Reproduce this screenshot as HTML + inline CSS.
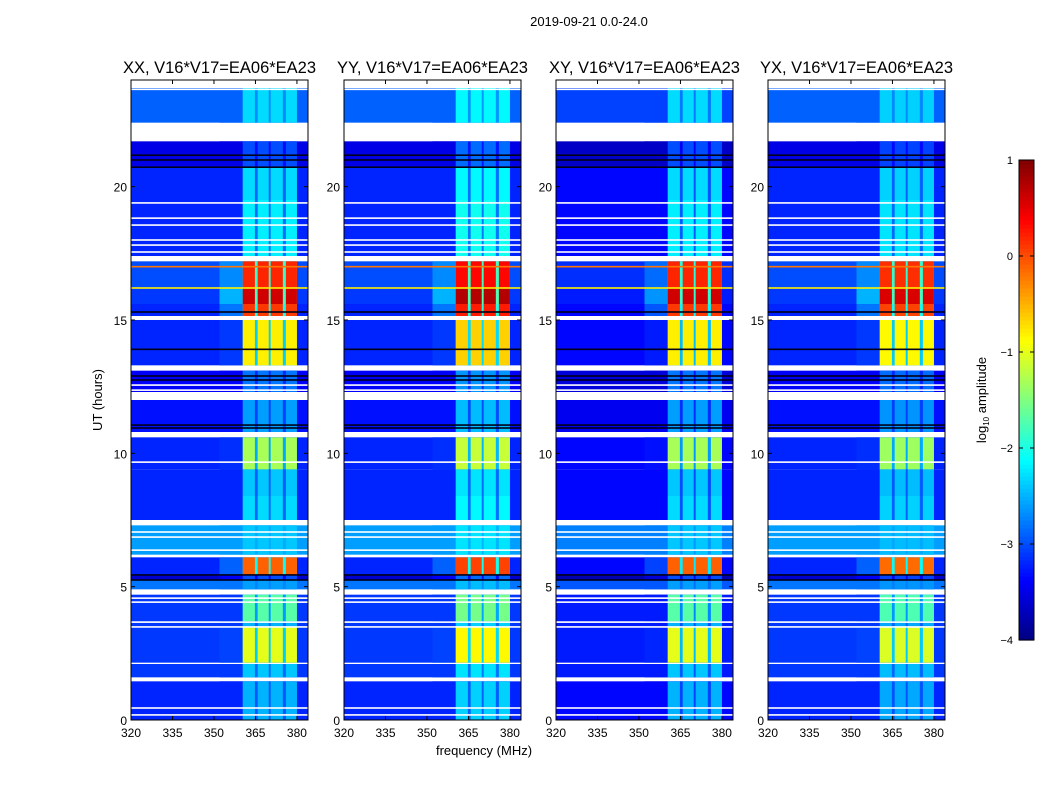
<!DOCTYPE html>
<html><head><meta charset="utf-8">
<style>
body{margin:0;background:#fff;}
svg text{font-family:"Liberation Sans",sans-serif;fill:#000;}
</style></head>
<body>
<svg id="chart" width="1050" height="800" xmlns="http://www.w3.org/2000/svg">
<rect width="1050" height="800" fill="#fff"/>
<text x="589" y="26" font-size="13" text-anchor="middle">2019-09-21 0.0-24.0</text>
<text transform="translate(102,400) rotate(-90)" font-size="13" text-anchor="middle">UT (hours)</text>
<text x="484" y="755" font-size="13" text-anchor="middle">frequency (MHz)</text>
<g id="panels"></g>
<g id="cbar"></g>
</svg>
<script>
// ---- data ----
const panelTitles = ["XX, V16*V17=EA06*EA23","YY, V16*V17=EA06*EA23","XY, V16*V17=EA06*EA23","YX, V16*V17=EA06*EA23"];
const bandOffset = [0, 0.15, 0, -0.05];
const bgOffset = [0, 0, -0.15, 0];
// [t0, t1, background level, band level, halo level]
const segments = [
 [0,1.45,-3.2,-2.5,-3.2],
 [1.6,2.1,-3.1,-2.4,-3.1],
 [2.15,3.5,-3.1,-1.0,-3.05],
 [3.5,3.7,-3.1,-2.5,-3.1],
 [3.7,4.7,-3.1,-1.7,-3.1],
 [4.9,5.25,-2.8,-2.6,-2.8],
 [5.25,5.45,-3.6,-3.0,-3.4],
 [5.45,6.1,-3.2,-0.1,-2.9],
 [6.2,7.3,-2.6,-2.4,-2.6],
 [7.5,8.4,-3.2,-2.3,-3.2],
 [8.4,9.4,-3.2,-2.4,-3.2],
 [9.4,10.6,-3.2,-1.3,-3.15],
 [10.8,12.0,-3.3,-2.6,-3.3],
 [12.3,13.1,-3.4,-2.8,-3.4],
 [13.3,15.0,-3.2,-0.8,-3.1],
 [15.15,15.6,-3.2,0.1,-2.8],
 [15.6,16.2,-3.1,0.6,-2.5],
 [16.2,17.2,-3.0,0.2,-2.7],
 [17.4,19.5,-3.2,-2.2,-3.2],
 [19.5,20.7,-3.2,-2.3,-3.2],
 [20.7,21.7,-3.5,-3.0,-3.5],
 [22.4,23.7,-2.9,-2.3,-2.9]
];
const whiteLines = [0.19,0.45,3.49,3.67,4.42,4.57,6.37,6.86,7.05,9.67,12.37,12.56,17.55,17.81,18.0,18.56,18.82,19.39,23.65];
// [t, level] full-width colored lines
const colorLines = [[10.95,-4.6],[11.06,-4.6],[5.25,-4.6],[5.44,-4.6],[12.75,-4.6],[12.9,-4.6],[13.9,-4.6],[20.73,-4.6],[21.0,-4.6],[21.18,-4.6],[16.2,-0.8],[17.0,-0.2],[15.3,-4.6]];
// sub-band frequency edges (MHz)
const subBands = [[360.4,364.8],[365.8,369.8],[370.5,374.9],[376,380]];
const haloRange = [352,360.4];
const xTicks = [320,335,350,365,380];
const yTicks = [0,5,10,15,20];
const cbTicks = [1,0,-1,-2,-3,-4];

// ---- layout ----
const panelX = [131,344,556,768];
const PW = 177, PT = 80, PB = 720;
const fMin = 320, fMax = 384, tMin = 0, tMax = 24;
const NS = "http://www.w3.org/2000/svg";

function jet(v){ // v in [-4,1]
  let x = (v+4)/5; if(x<0){ return v< -4.3 ? "#000018" : "#00007f"; } if(x>1)x=1;
  const c = t=>Math.round(255*Math.max(0,Math.min(1,t)));
  const r = c(1.5-Math.abs(4*x-3)), g = c(1.5-Math.abs(4*x-2)), b = c(1.5-Math.abs(4*x-1));
  return `rgb(${r},${g},${b})`;
}
function el(tag, attrs, parent){const e=document.createElementNS(NS,tag);for(const k in attrs)e.setAttribute(k,attrs[k]);parent.appendChild(e);return e;}

const panelsG = document.getElementById('panels');
panelX.forEach((x0,pi)=>{
  const xs = f => x0 + (f-fMin)/(fMax-fMin)*PW;
  const ys = t => PB - (t-tMin)/(tMax-tMin)*(PB-PT);
  const g = el('g',{},panelsG);
  
  
  el('rect',{x:x0,y:PT,width:PW,height:PB-PT,fill:'#fff'},g);
  segments.forEach(s=>{
    const y1=ys(s[1]), y0=ys(s[0]);
    const bg=s[2]+bgOffset[pi], band=s[3]+bandOffset[pi];
    const r=el('rect',{x:x0,y:y1,width:PW,height:y0-y1,fill:jet(bg)},g);
    
    
    el('rect',{x:xs(haloRange[0]),y:y1,width:xs(haloRange[1])-xs(haloRange[0]),height:y0-y1,fill:jet(s[4]+bgOffset[pi])},g);
    el('rect',{x:xs(subBands[0][0]),y:y1,width:xs(subBands[3][1])-xs(subBands[0][0]),height:y0-y1,fill:jet(bg+(band-bg)*0.35)},g);
    subBands.forEach(b=>{
      const br=el('rect',{x:xs(b[0]),y:y1,width:xs(b[1])-xs(b[0]),height:y0-y1,fill:jet(band)},g);
      
      
    });
  });
  colorLines.forEach(l=>{ el('rect',{x:x0,y:ys(l[0])-0.8,width:PW,height:1.6,fill:jet(l[1])},g); });
  whiteLines.forEach(t=>{ el('rect',{x:x0,y:ys(t)-0.8,width:PW,height:1.6,fill:'#fff'},g); });
  el('rect',{x:x0,y:PT,width:PW,height:PB-PT,fill:'none',stroke:'#000','stroke-width':1},g);
  xTicks.forEach(f=>{
    const x=xs(f);
    el('line',{x1:x,x2:x,y1:PB,y2:PB-4,stroke:'#000'},g);
    el('line',{x1:x,x2:x,y1:PT,y2:PT+4,stroke:'#000'},g);
    const t=el('text',{x:x,y:PB+17,'font-size':12,'text-anchor':'middle'},g); t.textContent=f;
    
    
  });
  yTicks.forEach(v=>{
    const y=ys(v);
    el('line',{x1:x0,x2:x0+4,y1:y,y2:y,stroke:'#000'},g);
    el('line',{x1:x0+PW,x2:x0+PW-4,y1:y,y2:y,stroke:'#000'},g);
    const t=el('text',{x:x0-4,y:y+5,'font-size':12,'text-anchor':'end'},g); t.textContent=v;
    
    
  });
  const tt=el('text',{x:x0+PW/2,y:PT-7,'font-size':16.5,'text-anchor':'middle'},g); tt.textContent=panelTitles[pi];
  
  
});

// colorbar
const cb=document.getElementById('cbar');


const CX=1019, CW=15, CT=160, CB=640;
const cy = v => CB - (v+4)/5*(CB-CT);
for(let i=0;i<120;i++){
  const v=-4+5*(i+0.5)/120;
  el('rect',{x:CX,y:cy(-4+5*(i+1)/120),width:CW,height:(CB-CT)/120+0.6,fill:jet(v)},cb);
}
el('rect',{x:CX,y:CT,width:CW,height:CB-CT,fill:'none',stroke:'#000'},cb);
cbTicks.forEach(v=>{
  const y=cy(v);
  el('line',{x1:CX,x2:CX+4,y1:y,y2:y,stroke:'#000'},cb);
  el('line',{x1:CX+CW,x2:CX+CW-4,y1:y,y2:y,stroke:'#000'},cb);
  const t=el('text',{x:1013,y:y+4,'font-size':11,'text-anchor':'end'},cb); t.textContent=v<0?'\u2212'+(-v):v;
  
  
});
const cl=el('text',{transform:'translate(986,400) rotate(-90)','font-size':13,'text-anchor':'middle'},cb);
cl.innerHTML='log<tspan font-size="8" dy="3">10</tspan><tspan dy="-3"> amplitude</tspan>';


</script>
</body></html>
